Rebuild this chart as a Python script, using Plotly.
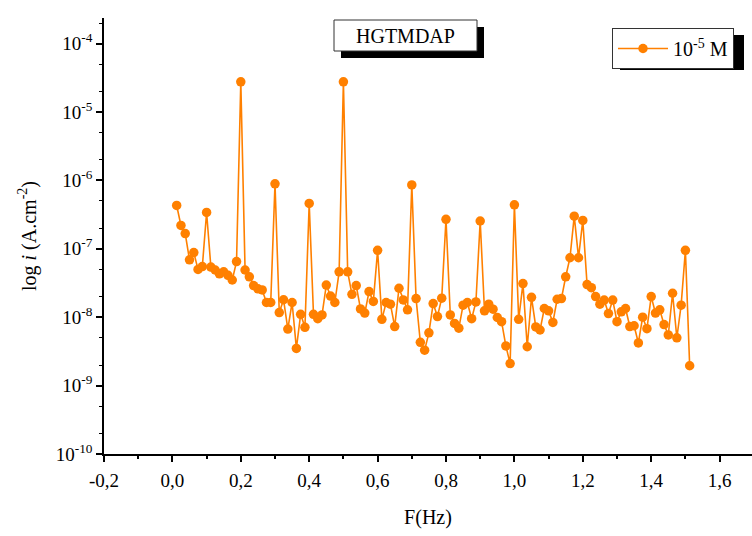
import plotly.graph_objects as go

# Frequency (Hz)
freq = [
    0.0125, 0.025, 0.0375, 0.05, 0.0625, 0.075, 0.0875, 0.1,
    0.1125, 0.125, 0.1375, 0.15, 0.1625, 0.175, 0.1875, 0.2,
    0.2125, 0.225, 0.2375, 0.25, 0.2625, 0.275, 0.2875, 0.3,
    0.3125, 0.325, 0.3375, 0.35, 0.3625, 0.375, 0.3875, 0.4,
    0.4125, 0.425, 0.4375, 0.45, 0.4625, 0.475, 0.4875, 0.5,
    0.5125, 0.525, 0.5375, 0.55, 0.5625, 0.575, 0.5875, 0.6,
    0.6125, 0.625, 0.6375, 0.65, 0.6625, 0.675, 0.6875, 0.7,
    0.7125, 0.725, 0.7375, 0.75, 0.7625, 0.775, 0.7875, 0.8,
    0.8125, 0.825, 0.8375, 0.85, 0.8625, 0.875, 0.8875, 0.9,
    0.9125, 0.925, 0.9375, 0.95, 0.9625, 0.975, 0.9875, 1.0,
    1.0125, 1.025, 1.0375, 1.05, 1.0625, 1.075, 1.0875, 1.1,
    1.1125, 1.125, 1.1375, 1.15, 1.1625, 1.175, 1.1875, 1.2,
    1.2125, 1.225, 1.2375, 1.25, 1.2625, 1.275, 1.2875, 1.3,
    1.3125, 1.325, 1.3375, 1.35, 1.3625, 1.375, 1.3875, 1.4,
    1.4125, 1.425, 1.4375, 1.45, 1.4625, 1.475, 1.4875, 1.5,
    1.5125,
]

# Current density (A.cm^-2), 10^-5 M
current = [
    4.3e-7, 2.2e-7, 1.67e-7, 6.9e-8, 8.8e-8, 5.0e-8, 5.5e-8, 3.4e-7,
    5.4e-8, 4.9e-8, 4.3e-8, 4.6e-8, 4.1e-8, 3.5e-8, 6.5e-8, 2.76e-5,
    4.9e-8, 3.9e-8, 2.9e-8, 2.6e-8, 2.5e-8, 1.64e-8, 1.64e-8, 8.9e-7,
    1.17e-8, 1.8e-8, 6.7e-9, 1.64e-8, 3.5e-9, 1.1e-8, 7.1e-9, 4.6e-7,
    1.1e-8, 9.5e-9, 1.08e-8, 2.95e-8, 2.04e-8, 1.64e-8, 4.6e-8, 2.76e-5,
    4.6e-8, 2.16e-8, 2.9e-8, 1.32e-8, 1.15e-8, 2.37e-8, 1.7e-8, 9.5e-8,
    9.3e-9, 1.64e-8, 1.55e-8, 7.3e-9, 2.65e-8, 1.79e-8, 1.28e-8, 8.6e-7,
    1.87e-8, 4.3e-9, 3.3e-9, 5.9e-9, 1.58e-8, 1.02e-8, 1.9e-8, 2.7e-7,
    1.08e-8, 8.1e-9, 6.9e-9, 1.5e-8, 1.64e-8, 9.5e-9, 1.67e-8, 2.55e-7,
    1.24e-8, 1.55e-8, 1.31e-8, 9.9e-9, 8.6e-9, 3.8e-9, 2.1e-9, 4.4e-7,
    9.3e-9, 3.1e-8, 3.7e-9, 1.95e-8, 7.2e-9, 6.5e-9, 1.34e-8, 1.24e-8,
    8.4e-9, 1.83e-8, 1.87e-8, 3.9e-8, 7.4e-8, 3.0e-7, 7.4e-8, 2.6e-7,
    3.0e-8, 2.7e-8, 2.0e-8, 1.55e-8, 1.78e-8, 1.13e-8, 1.78e-8, 8.6e-9,
    1.2e-8, 1.34e-8, 7.3e-9, 7.5e-9, 4.2e-9, 1.0e-8, 6.8e-9, 2.0e-8,
    1.15e-8, 1.28e-8, 7.8e-9, 5.5e-9, 2.24e-8, 5.0e-9, 1.5e-8, 9.5e-8,
    1.95e-9,
]

series_name = "10<sup>-5</sup> M"
title_text = "HGTMDAP"

x_tickvals = [-0.2, 0.0, 0.2, 0.4, 0.6, 0.8, 1.0, 1.2, 1.4, 1.6]
x_ticktext = ["-0,2", "0,0", "0,2", "0,4", "0,6", "0,8", "1,0", "1,2", "1,4", "1,6"]
y_tickvals = [1e-10, 1e-9, 1e-8, 1e-7, 1e-6, 1e-5, 1e-4]
y_ticktext = ["10<sup>-10</sup>", "10<sup>-9</sup>", "10<sup>-8</sup>", "10<sup>-7</sup>",
              "10<sup>-6</sup>", "10<sup>-5</sup>", "10<sup>-4</sup>"]

W, H = 752, 536
ML, MR, MT, MB = 104, 0, 18, 82
PW, PH = W - ML - MR, H - MT - MB

def px(xp):
    return (xp - ML) / PW

def py(yp):
    return (H - MB - yp) / PH

FONT = "Liberation Serif"
ORANGE = "#FF8000"

fig = go.Figure()
fig.add_trace(go.Scatter(
    x=freq, y=current, mode="lines+markers", name=series_name,
    line=dict(color=ORANGE, width=1.6),
    marker=dict(color=ORANGE, size=9.5, symbol="circle"),
))

shapes = []
# title box with shadow
shapes.append(dict(type="rect", xref="paper", yref="paper",
                   x0=px(341), x1=px(484), y0=py(58), y1=py(27),
                   fillcolor="black", line=dict(width=0), layer="above"))
shapes.append(dict(type="rect", xref="paper", yref="paper",
                   x0=px(334), x1=px(477), y0=py(51), y1=py(20),
                   fillcolor="white", line=dict(color="#333333", width=1), layer="above"))
# legend shadow
shapes.append(dict(type="rect", xref="paper", yref="paper",
                   x0=px(620), x1=px(744), y0=py(70), y1=py(35),
                   fillcolor="black", line=dict(width=0), layer="above"))

fig.update_layout(
    width=W, height=H,
    margin=dict(l=ML, r=MR, t=MT, b=MB),
    paper_bgcolor="white", plot_bgcolor="white",
    font=dict(family=FONT, size=19, color="black"),
    showlegend=True,
    legend=dict(x=px(612), y=py(28), xanchor="left", yanchor="top",
                bgcolor="white", bordercolor="#333333", borderwidth=1,
                font=dict(family=FONT, size=20, color="black"),
                itemwidth=50),
    shapes=shapes,
    annotations=[dict(text=title_text, xref="paper", yref="paper",
                      x=px(405.5), y=py(35.5), xanchor="center", yanchor="middle",
                      showarrow=False, font=dict(family=FONT, size=20, color="black"))],
)

fig.update_xaxes(
    range=[-0.2, -0.2 + PW / 342.0], showgrid=False, zeroline=False,
    showline=True, linecolor="black", linewidth=1.5,
    tickmode="array", tickvals=x_tickvals, ticktext=x_ticktext,
    ticks="outside", ticklen=6, tickwidth=1.5, tickcolor="black",
    minor=dict(dtick=0.1, ticks="outside", ticklen=3, tickwidth=1.5, tickcolor="black", showgrid=False),
    tickfont=dict(family=FONT, size=19), ticklabelstandoff=2,
    title=dict(text="F(Hz)", font=dict(family=FONT, size=20), standoff=20),
)
fig.update_yaxes(
    type="log", range=[-10, -10 + PH / 68.4], showgrid=False, zeroline=False,
    showline=True, linecolor="black", linewidth=1.5,
    tickmode="array", tickvals=y_tickvals, ticktext=y_ticktext,
    ticks="outside", ticklen=6, tickwidth=1.5, tickcolor="black",
    minor=dict(ticks="outside", ticklen=3, tickwidth=1, tickcolor="black", showgrid=False),
    tickfont=dict(family=FONT, size=19),
    title=dict(text="log <i>i</i> (A.cm<sup>-2</sup>)", font=dict(family=FONT, size=20), standoff=14),
)

fig.write_html("out.html")
